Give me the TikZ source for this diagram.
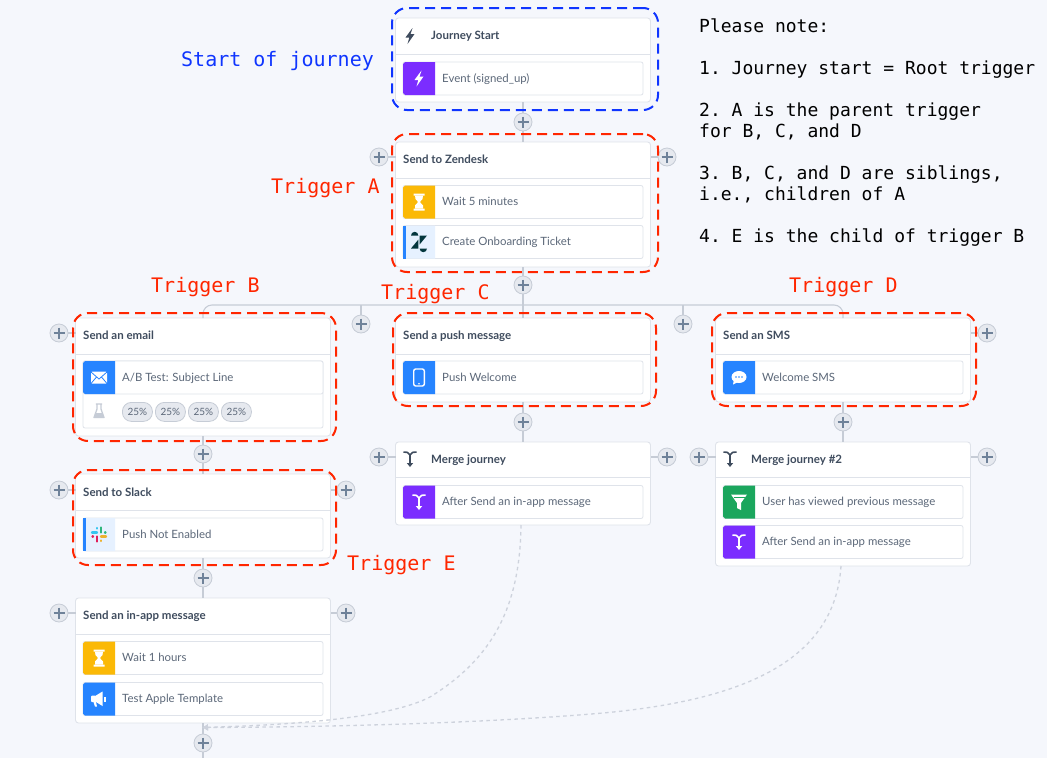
\documentclass[tikz,border=0pt]{standalone}
\usepackage{fontspec}
\setsansfont{Lato}
\setmonofont{DejaVu Sans Mono}
\usetikzlibrary{arrows.meta}
\definecolor{pagebg}{HTML}{F5F7FC}
\definecolor{cardline}{HTML}{DFE3EA}
\definecolor{stemgrey}{HTML}{C6CCD6}
\definecolor{dashgrey}{HTML}{CDD2DC}
\definecolor{plusfill}{HTML}{E6E9EF}
\definecolor{plusink}{HTML}{6F8299}
\definecolor{titleink}{HTML}{3F4C5E}
\definecolor{rowink}{HTML}{5C6879}
\definecolor{stepviolet}{HTML}{7B2DFF}
\definecolor{stepyellow}{HTML}{FBB906}
\definecolor{stepblue}{HTML}{2684FF}
\definecolor{stepgreen}{HTML}{1BA65D}
\definecolor{steppale}{HTML}{E6F1FF}
\definecolor{framered}{HTML}{FF2600}
\definecolor{frameblue}{HTML}{0F35FF}
\definecolor{zenink}{HTML}{03363D}
\tikzset{
  card/.style={draw=cardline,fill=white,rounded corners=3pt,line width=0.9pt,anchor=north west,minimum width=255pt,inner sep=0pt,outer sep=0pt},
  carddiv/.style={draw=cardline,line width=0.9pt},
  rowbox/.style={draw=cardline,fill=white,rounded corners=2pt,line width=0.8pt,anchor=north west,minimum width=240pt,minimum height=33pt,inner sep=0pt,outer sep=0pt},
  title/.style={anchor=west,inner sep=0pt,text=titleink,text height=9pt,text depth=2pt,font=\sffamily\bfseries\fontsize{11.5}{13}\selectfont},
  steplabel/.style={anchor=west,inner sep=0pt,text=rowink,text height=9pt,text depth=2pt,font=\sffamily\fontsize{11.4}{13}\selectfont},
  plusbtn/.style={circle,draw=stemgrey,fill=plusfill,line width=0.8pt,minimum size=18pt,inner sep=0pt,outer sep=0pt,
    path picture={\draw[plusink,line width=1.2pt] (path picture bounding box.center) ++(-5.5,0) -- ++(11,0) ++(-5.5,-5.5) -- ++(0,11);}},
  stem/.style={draw=stemgrey,line width=1.8pt},
  stub/.style={draw=stemgrey,line width=1.1pt},
  mergepath/.style={draw=dashgrey,line width=1.3pt,dash pattern=on 3.5pt off 3.5pt,-{Latex[length=6pt,width=7pt]}},
  framebox/.style={draw=framered,dash pattern=on 10pt off 6pt,line width=2pt,rounded corners=15pt,anchor=north west,inner sep=0pt,outer sep=0pt},
  trigger/.style={anchor=west,inner sep=0pt,text=framered,font=\ttfamily\fontsize{20}{24}\selectfont},
  pill/.style={draw=stemgrey,fill=plusfill,rounded corners=9pt,line width=0.8pt,minimum width=30pt,minimum height=19pt,inner sep=0pt,anchor=north west,text=rowink,font=\sffamily\fontsize{10}{11}\selectfont},
  pics/bolt/.style={code={\fill[#1] (2.5,-8) -- (-4.5,1.5) -- (-0.7,1.5) -- (-2.5,8) -- (4.5,-2) -- (0.5,-2) -- cycle;}},
  pics/hourglass/.style={code={\fill[white] (-5.5,-8.5) rectangle (5.5,-6.5) (-5.5,6.5) rectangle (5.5,8.5);
    \fill[white] (-4,-6.5) -- (4,-6.5) -- (3.5,-3) -- (0.9,0) -- (4,3.5) -- (4,6.5) -- (-4,6.5) -- (-4,3.5) -- (-0.9,0) -- (-3.5,-3) -- cycle;}},
  pics/mailicon/.style={code={\fill[white,rounded corners=1pt] (-8,-6) rectangle (8,6);
    \draw[stepblue,line width=0.8pt] (-8,-5.5) -- (0,1.5) -- (8,-5.5) (-8,6) -- (-2.5,-0.5) (8,6) -- (2.5,-0.5);}},
  pics/phoneicon/.style={code={\draw[white,line width=1.4pt,rounded corners=2pt] (-5.3,-8.5) rectangle (5.3,8.5);
    \fill[white] (0,6.3) circle (0.9);}},
  pics/chaticon/.style={code={\fill[white] (0,-0.5) ellipse (7.5 and 6);
    \fill[white] (-5,2) -- (-6,7) -- (-1,4.5) -- cycle;
    \fill[stepblue] (-3,-0.5) circle (0.9) (0,-0.5) circle (0.9) (3,-0.5) circle (0.9);}},
  pics/megaicon/.style={code={\fill[white,rounded corners=1pt] (-8,-3.5) rectangle (-2.5,3);
    \fill[white] (-3,-3.5) -- (3.5,-7.5) -- (3.5,7) -- (-3,3) -- cycle;
    \fill[white] (-5.5,3) -- (-3,3) -- (-2,7.5) -- (-4,7.5) -- cycle;
    \fill[white] (5,-2.5) rectangle (6.5,2.5);}},
  pics/funnelicon/.style={code={\fill[white] (-8,-7.5) -- (8,-7.5) -- (2,1) -- (2,8) -- (-2,6) -- (-2,1) -- cycle;
    \draw[stepgreen,line width=0.7pt] (-5.5,-5) -- (5.5,-5);}},
  pics/mergeicon/.style={code={\draw[#1,line width=1.6pt] (-6.5,-7) .. controls (-4,-7) and (-1,-7) .. (0,-4) .. controls (1,-7) and (4,-7) .. (6.5,-7) (0,-4) -- (0,5);
    \fill[#1] (-3.2,4) -- (3.2,4) -- (0,8) -- cycle;}},
  pics/slackicon/.style={code={
    \draw[line cap=round,line width=2.4pt,color={rgb,255:red,54;green,197;blue,240}] (-7,-2) -- (-2,-2) (-2,-6.5) -- (-2,-6);
    \draw[line cap=round,line width=2.4pt,color={rgb,255:red,46;green,182;blue,125}] (2,-7) -- (2,-2) (6.5,-2) -- (6,-2);
    \draw[line cap=round,line width=2.4pt,color={rgb,255:red,236;green,178;blue,46}] (2,2) -- (7,2) (2,6.5) -- (2,6);
    \draw[line cap=round,line width=2.4pt,color={rgb,255:red,224;green,30;blue,90}] (-2,2) -- (-2,7) (-6.5,2) -- (-6,2);}},
  pics/zenicon/.style={code={\fill[zenink] (-8,6.5) -- (-0.6,-2.5) -- (-0.6,6.5) -- cycle;
    \fill[zenink] (8,-6.5) -- (0.6,2.5) -- (0.6,-6.5) -- cycle;
    \fill[zenink] (-8,-6.5) -- (-0.6,-6.5) arc[start angle=0,end angle=-180,radius=3.7] -- cycle;
    \fill[zenink] (0.6,6.5) arc[start angle=180,end angle=0,radius=3.7] -- cycle;}},
  pics/flask/.style={code={\draw[stemgrey,line width=1.3pt,line join=round] (-3.2,-7) -- (3.2,-7) (-2,-7) -- (-2,-2) -- (-5,6.5) -- (5,6.5) -- (2,-2) -- (2,-7);
    \fill[stemgrey] (-3.2,2) -- (3.2,2) -- (5,6.5) -- (-5,6.5) -- cycle;}},
}
\newcommand{\steprow}[5]{%
  \begin{scope}[shift={(#1)}]
    \node[rowbox] (#2) at (0,0) {};
    \fill[#3] (32,0) -- (2,0) -- (0,2) -- (0,31) -- (2,33) -- (32,33) -- cycle;
    \node[steplabel] (#2label) at (39,16.5) {#4};
    \pic at (16,16.5) {#5};
  \end{scope}}
\begin{document}
\begin{tikzpicture}[x=1pt,y=-1pt]
  \useasboundingbox (0,0) rectangle (1047,758);
  \fill[pagebg] (0,0) rectangle (1047,758);

  \node[card,minimum height=84pt] (start) at (395.5,18) {};
  \draw[carddiv] (395.5,54) -- (650.5,54);
  \pic at (410,36) {bolt=titleink};
  \node[title] (starttitle) at (431,36) {Journey Start};
  \steprow{403,62}{event}{stepviolet}{Event (signed\_up)}{bolt=white}

  \node[card,minimum height=125pt] (zendesk) at (395.5,142) {};
  \draw[carddiv] (395.5,178) -- (650.5,178);
  \node[title] (zendesktitle) at (403,160) {Send to Zendesk};
  \steprow{403,185.5}{waitfive}{stepyellow}{Wait 5 minutes}{hourglass}
  \steprow{403,225.5}{ticket}{steppale}{Create Onboarding Ticket}{zenicon}
  \fill[stepblue] (403,225.5) rectangle (406,258.5);

  \node[card,minimum height=118pt] (email) at (75.5,318) {};
  \draw[carddiv] (75.5,354) -- (330.5,354);
  \node[title] (emailtitle) at (83,336) {Send an email};
  \node[rowbox,minimum height=67pt] (abtest) at (83,361) {};
  \steprow{83,361}{subject}{stepblue}{A/B Test: Subject Line}{mailicon}
  \pic at (99,411) {flask};
  \node[pill] (pilla) at (122,402) {25\%};
  \node[pill] (pillb) at (155,402) {25\%};
  \node[pill] (pillc) at (188,402) {25\%};
  \node[pill] (pilld) at (221,402) {25\%};

  \node[card,minimum height=84pt] (slack) at (75.5,474) {};
  \draw[carddiv] (75.5,510) -- (330.5,510);
  \node[title] (slacktitle) at (83,492.5) {Send to Slack};
  \steprow{83,518}{pushoff}{steppale}{Push Not Enabled}{slackicon}
  \fill[stepblue] (83,518) rectangle (86,551);

  \node[card,minimum height=125pt] (inapp) at (75.5,598) {};
  \draw[carddiv] (75.5,634) -- (330.5,634);
  \node[title] (inapptitle) at (83,615.5) {Send an in-app message};
  \steprow{83,641.5}{waitone}{stepyellow}{Wait 1 hours}{hourglass}
  \steprow{83,682.5}{template}{stepblue}{Test Apple Template}{megaicon}

  \node[card,minimum height=84pt] (push) at (395.5,318) {};
  \draw[carddiv] (395.5,354) -- (650.5,354);
  \node[title] (pushtitle) at (403,336) {Send a push message};
  \steprow{403,361}{welcome}{stepblue}{Push Welcome}{phoneicon}

  \node[card,minimum height=83pt] (mergea) at (395.5,442) {};
  \draw[carddiv] (395.5,477) -- (650.5,477);
  \pic at (410,459) {mergeicon=titleink};
  \node[title] (mergeatitle) at (431,459.5) {Merge journey};
  \steprow{403,485.5}{aftera}{stepviolet}{After Send an in-app message}{mergeicon=white}

  \node[card,minimum height=84pt] (sms) at (715.5,318) {};
  \draw[carddiv] (715.5,354) -- (970.5,354);
  \node[title] (smstitle) at (723,336) {Send an SMS};
  \steprow{723,361}{welcomesms}{stepblue}{Welcome SMS}{chaticon}

  \node[card,minimum height=124pt] (mergeb) at (715.5,442) {};
  \draw[carddiv] (715.5,477) -- (970.5,477);
  \pic at (730,459) {mergeicon=titleink};
  \node[title] (mergebtitle) at (751,459.5) {Merge journey \#2};
  \steprow{723,485.5}{viewed}{stepgreen}{User has viewed previous message}{funnelicon}
  \steprow{723,525.5}{afterb}{stepviolet}{After Send an in-app message}{mergeicon=white}

  \node[plusbtn] (plusa) at (523,122) {};
  \node[plusbtn] (plusb) at (523,285) {};
  \node[plusbtn] (zenleft) at (379,157) {};
  \node[plusbtn] (zenright) at (667,157) {};
  \node[plusbtn] (treeleft) at (361,324) {};
  \node[plusbtn] (treeright) at (683,324) {};
  \node[plusbtn] (emailleft) at (59,333) {};
  \node[plusbtn] (emaildown) at (203,454) {};
  \node[plusbtn] (slackleft) at (59,490) {};
  \node[plusbtn] (slackright) at (346,490) {};
  \node[plusbtn] (slackdown) at (203,578) {};
  \node[plusbtn] (inappleft) at (59,613) {};
  \node[plusbtn] (inappright) at (346,613) {};
  \node[plusbtn] (inappdown) at (203,743) {};
  \node[plusbtn] (pushdown) at (523,422) {};
  \node[plusbtn] (mergealeft) at (379,457) {};
  \node[plusbtn] (mergearight) at (667,457) {};
  \node[plusbtn] (smsright) at (987,333) {};
  \node[plusbtn] (smsdown) at (843,422) {};
  \node[plusbtn] (mergebleft) at (699,457) {};
  \node[plusbtn] (mergebright) at (987,457) {};

  \coordinate (treea) at (203,305);
  \coordinate (treeb) at (843,305);
  \coordinate (pageend) at (203,758);
  \coordinate (joinpoint) at (202,727.5);

  \draw[stem] (start.south) -- (plusa.north);
  \draw[stem] (plusa.south) -- (zendesk.north);
  \draw[stem] (zendesk.south) -- (plusb.north);
  \draw[stem] (plusb.south) -- (push.north);
  \draw[stub,rounded corners=9pt] (email.north) -- (treea) -- (treeb) -- (sms.north);
  \draw[stub] (treeleft.north) -- (treeleft |- treea);
  \draw[stub] (treeright.north) -- (treeright |- treea);
  \draw[stem] (email.south) -- (emaildown.north);
  \draw[stem] (emaildown.south) -- (slack.north);
  \draw[stem] (slack.south) -- (slackdown.north);
  \draw[stem] (slackdown.south) -- (inapp.north);
  \draw[stem] (inapp.south) -- (inappdown.north);
  \draw[stem] (inappdown.south) -- (pageend);
  \draw[stem] (push.south) -- (pushdown.north);
  \draw[stem] (pushdown.south) -- (mergea.north);
  \draw[stem] (sms.south) -- (smsdown.north);
  \draw[stem] (smsdown.south) -- (mergeb.north);
  \draw[stub] (zenleft.east) -- (zendesk.west |- zenleft);
  \draw[stub] (zenright.west) -- (zendesk.east |- zenright);
  \draw[stub] (emailleft.east) -- (email.west |- emailleft);
  \draw[stub] (slackleft.east) -- (slack.west |- slackleft);
  \draw[stub] (slackright.west) -- (slack.east |- slackright);
  \draw[stub] (inappleft.east) -- (inapp.west |- inappleft);
  \draw[stub] (inappright.west) -- (inapp.east |- inappright);
  \draw[stub] (mergealeft.east) -- (mergea.west |- mergealeft);
  \draw[stub] (mergearight.west) -- (mergea.east |- mergearight);
  \draw[stub] (smsright.west) -- (sms.east |- smsright);
  \draw[stub] (mergebleft.east) -- (mergeb.west |- mergebleft);
  \draw[stub] (mergebright.west) -- (mergeb.east |- mergebright);
  \draw[mergepath] ([xshift=-2pt]mergea.south) .. controls (520,610) and (490,660) .. (430,697) .. controls (395,715) and (320,724) .. (joinpoint);
  \draw[mergepath] ([xshift=-2pt]mergeb.south) .. controls (835,660) and (745,700) .. (603,713) .. controls (500,722) and (350,727) .. (joinpoint);

  \node[framebox,draw=frameblue,minimum width=266pt,minimum height=102pt] (framestart) at (392,8) {};
  \node[framebox,minimum width=266pt,minimum height=138pt] (framea) at (392,134) {};
  \node[framebox,minimum width=263pt,minimum height=128pt] (frameb) at (73,313) {};
  \node[framebox,minimum width=263pt,minimum height=93pt] (framec) at (393,313) {};
  \node[framebox,minimum width=264pt,minimum height=93pt] (framed) at (712,313) {};
  \node[framebox,minimum width=263pt,minimum height=95pt] (framee) at (73,470) {};

  \node[trigger,text=frameblue] (startnote) at (181,61) {Start of journey};
  \node[trigger] (triggera) at (271,188) {Trigger A};
  \node[trigger] (triggerb) at (151,287) {Trigger B};
  \node[trigger] (triggerc) at (381,294) {Trigger C};
  \node[trigger] (triggerd) at (789,287) {Trigger D};
  \node[trigger] (triggere) at (347,565) {Trigger E};

  \node[anchor=north west,inner sep=0pt,align=left,font=\ttfamily\fontsize{18}{21}\selectfont] (notes) at (699,19) {Please note:\\[21pt]
    1. Journey start = Root trigger\\[21pt]
    2. A is the parent trigger\\
    for B, C, and D\\[21pt]
    3. B, C, and D are siblings,\\
    i.e., children of A\\[21pt]
    4. E is the child of trigger B};
\end{tikzpicture}
\end{document}
